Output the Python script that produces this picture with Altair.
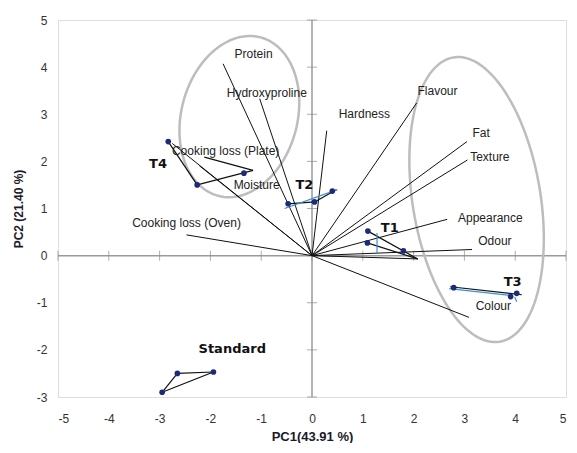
import altair as alt
import pandas as pd
import numpy as np

# ---- variable loadings (vectors from origin) ----
var_names = ["Protein", "Hydroxyproline", "Hardness", "Flavour", "Fat", "Texture",
             "Appearance", "Odour", "Colour", "Cooking loss (Oven)",
             "Cooking loss (Plate)", "Moisture", ""]
var_x = [-1.75, -1.03, 0.29, 2.06, 3.05, 3.06, 2.66, 3.15, 3.09, -2.47, -2.75, -2.22, 2.08]
var_y = [4.07, 3.33, 2.65, 3.24, 2.42, 2.03, 0.77, 0.13, -1.31, 0.44, 2.38, 1.91, -0.07]
lab_x = [-1.15, -0.89, 1.03, 2.47, 3.33, 3.50, 3.51, 3.60, 3.57, -2.47, -1.70, -1.09, 0]
lab_y = [4.28, 3.45, 3.00, 3.50, 2.61, 2.10, 0.80, 0.30, -1.07, 0.69, 2.23, 1.49, 0]

# ---- treatment groups ----
grp_names = ["T4", "T2", "T1", "T3", "Standard"]
grp_lab_x = [-3.03, -0.15, 1.53, 3.95, -1.57]
grp_lab_y = [1.95, 1.50, 0.59, -0.56, -1.98]

pt_x = [-2.83, -2.26, -1.34, -0.47, 0.05, 0.40, 1.10, 1.09, 1.80,
        2.79, 3.91, 4.03, -2.65, -1.94, -2.95]
pt_y = [2.42, 1.50, 1.75, 1.10, 1.14, 1.37, 0.52, 0.27, 0.10,
        -0.68, -0.87, -0.80, -2.50, -2.47, -2.90]

# black connecting segments
seg_x1 = [-2.83, -2.26, -2.12, -0.47, 0.05, 1.10, 1.09, 2.72, -2.65, -1.94, -2.95]
seg_y1 = [2.42, 1.50, 2.09, 1.10, 1.14, 0.52, 0.27, -0.66, -2.50, -2.47, -2.90]
seg_x2 = [-2.26, -1.16, -1.16, 0.05, 0.48, 2.08, 2.08, 4.13, -1.94, -2.95, -2.65]
seg_y2 = [1.50, 1.81, 1.81, 1.14, 1.40, -0.07, -0.07, -0.83, -2.47, -2.90, -2.50]

# blue segments
blue_x1 = [-0.54, 1.28, 2.70, 3.99]
blue_y1 = [1.00, 0.48, -0.70, -0.88]
blue_x2 = [0.50, 1.28, 3.95, 4.03]
blue_y2 = [1.40, 0.06, -0.85, -0.98]

# ellipses: centre (data), semi-axes (px), tilt (deg)
ell_cx = [-1.43, 3.24]
ell_cy = [2.95, 1.19]
ell_a = [82, 144]
ell_b = [58, 64]
ell_tilt = [15, -9.2]

x_ticks = [-5, -4, -3, -2, -1, 0, 1, 2, 3, 4, 5]
y_ticks = [-3, -2, -1, 0, 1, 2, 3, 4, 5]

W, H = 508, 377
PX = W / 10.0
PY = H / 8.0

vec_df = pd.DataFrame({"x": [0.0] * len(var_x), "y": [0.0] * len(var_y),
                       "x2": var_x, "y2": var_y})
lab_df = pd.DataFrame({"name": var_names, "x": lab_x, "y": lab_y})
lab_df = lab_df[lab_df["name"] != ""]
grp_df = pd.DataFrame({"name": grp_names, "x": grp_lab_x, "y": grp_lab_y})
pt_df = pd.DataFrame({"x": pt_x, "y": pt_y})
seg_df = pd.DataFrame({"x": seg_x1, "y": seg_y1, "x2": seg_x2, "y2": seg_y2})
blue_df = pd.DataFrame({"x": blue_x1, "y": blue_y1, "x2": blue_x2, "y2": blue_y2})

rows = []
for k in range(len(ell_cx)):
    t = np.deg2rad(ell_tilt[k])
    ux, uy = np.sin(t), np.cos(t)      # major axis direction (data-up)
    vx, vy = np.cos(t), -np.sin(t)
    for i, th in enumerate(np.linspace(0, 2 * np.pi, 121)):
        dx = ell_a[k] * np.cos(th) * ux + ell_b[k] * np.sin(th) * vx
        dy = ell_a[k] * np.cos(th) * uy + ell_b[k] * np.sin(th) * vy
        rows.append({"e": k, "o": i, "x": ell_cx[k] + dx / PX, "y": ell_cy[k] + dy / PY})
ell_df = pd.DataFrame(rows)

xtick_df = pd.DataFrame({"x": x_ticks, "y": [0] * len(x_ticks)})
ytick_df = pd.DataFrame({"x": [0] * len(y_ticks), "y": y_ticks})

xs = alt.Scale(domain=[-5, 5], nice=False, zero=False)
ys = alt.Scale(domain=[-3, 5], nice=False, zero=False)

FONT = "Liberation Sans"

xaxis = alt.Axis(values=x_ticks, ticks=False, domain=False, grid=False,
                 labelPadding=16, labelFontSize=12, labelColor="#333333", labelFont=FONT,
                 labelExpr="toString(datum.value)",
                 title="PC1(43.91 %)", titleFontSize=13, titleFont=FONT, titleFontWeight="bold",
                 titleColor="#1a1a2a", titleY=39, titleBaseline="middle")
yaxis = alt.Axis(values=y_ticks, ticks=False, domain=False, grid=False,
                 labelPadding=11, labelFontSize=12, labelColor="#333333", labelFont=FONT,
                 labelExpr="toString(datum.value)",
                 title="PC2 (21.40 %)", titleFontSize=12, titleFont=FONT, titleFontWeight="bold",
                 titleColor="#1a1a2a", titleX=-40, titleBaseline="middle")

base_x = alt.X("x:Q", scale=xs, axis=xaxis)
base_y = alt.Y("y:Q", scale=ys, axis=yaxis)

zero_v = alt.Chart(pd.DataFrame({"x": [0]})).mark_rule(color="#9a9a9a", strokeWidth=1.5).encode(
    x=alt.X("x:Q", scale=xs))
zero_h = alt.Chart(pd.DataFrame({"y": [0]})).mark_rule(color="#9a9a9a", strokeWidth=1.5).encode(
    y=alt.Y("y:Q", scale=ys))
xt = alt.Chart(xtick_df).mark_tick(orient="vertical", size=10, thickness=1, color="#8a8a8a").encode(
    x=alt.X("x:Q", scale=xs), y=alt.Y("y:Q", scale=ys))
yt = alt.Chart(ytick_df).mark_tick(orient="horizontal", size=10, thickness=1, color="#8a8a8a").encode(
    x=alt.X("x:Q", scale=xs), y=alt.Y("y:Q", scale=ys))

ells = alt.Chart(ell_df).mark_line(color="#bdbdbd", strokeWidth=2.5).encode(
    x=alt.X("x:Q", scale=xs), y=alt.Y("y:Q", scale=ys), detail="e:N", order="o:Q")

vecs = alt.Chart(vec_df).mark_rule(color="#111111", strokeWidth=1).encode(
    x=base_x, y=base_y, x2="x2:Q", y2="y2:Q")
segs = alt.Chart(seg_df).mark_rule(color="#111111", strokeWidth=1.2).encode(
    x=alt.X("x:Q", scale=xs), y=alt.Y("y:Q", scale=ys), x2="x2:Q", y2="y2:Q")
blues = alt.Chart(blue_df).mark_rule(color="#3d8fd6", strokeWidth=1.2).encode(
    x=alt.X("x:Q", scale=xs), y=alt.Y("y:Q", scale=ys), x2="x2:Q", y2="y2:Q")
pts = alt.Chart(pt_df).mark_circle(color="#1c2a7a", size=32, opacity=1).encode(
    x=alt.X("x:Q", scale=xs), y=alt.Y("y:Q", scale=ys))

labels = alt.Chart(lab_df).mark_text(font=FONT, fontSize=12, color="#222222",
                                     align="center", baseline="middle").encode(
    x=alt.X("x:Q", scale=xs), y=alt.Y("y:Q", scale=ys), text="name:N")
glabels = alt.Chart(grp_df).mark_text(font="DejaVu Sans", fontSize=13, fontWeight="bold",
                                      color="#111111", align="center", baseline="middle").encode(
    x=alt.X("x:Q", scale=xs), y=alt.Y("y:Q", scale=ys), text="name:N")

chart = alt.layer(zero_v, zero_h, xt, yt, ells, vecs, segs, blues, pts, labels, glabels).properties(
    width=W, height=H,
    autosize=alt.AutoSizeParams(type="none"),
    padding={"left": 50, "top": 12, "right": 3, "bottom": 46},
).configure_view(stroke="#111111", strokeWidth=1).configure(background="white")

chart.save("out.html", embed_options={"renderer": "svg", "actions": False})
